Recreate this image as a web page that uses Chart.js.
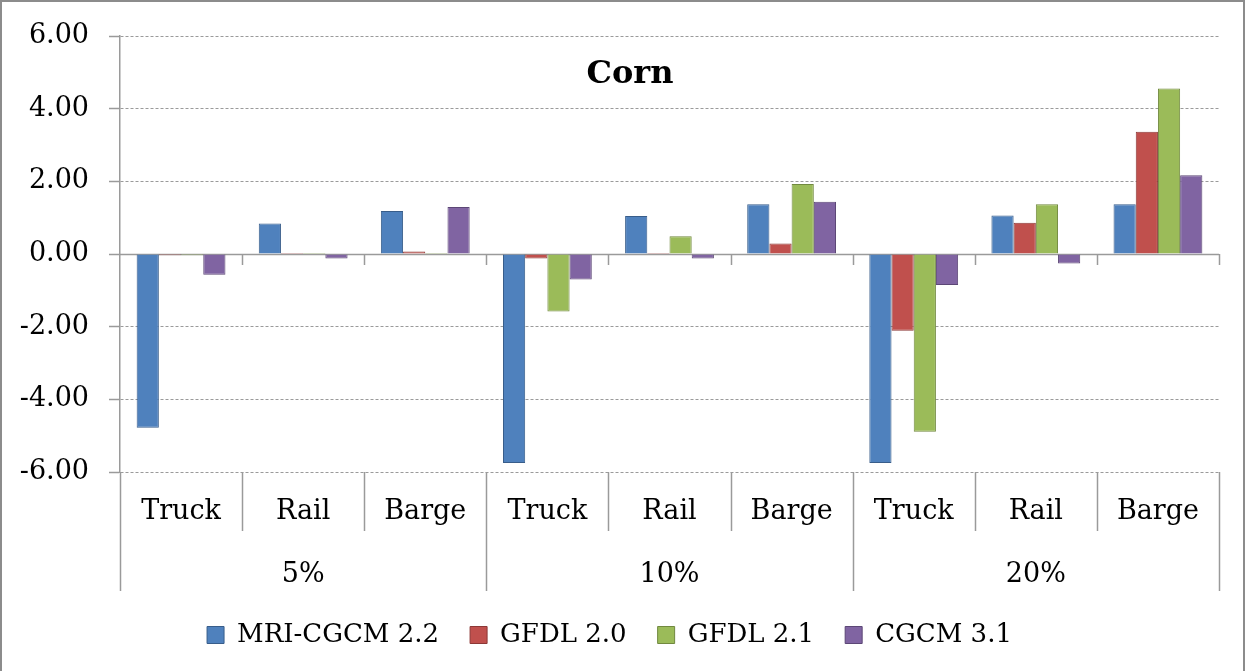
<!DOCTYPE html>
<html>
<head>
<meta charset="utf-8">
<title>Corn</title>
<script src="https://cdn.jsdelivr.net/npm/chart.js@4.4.0/dist/chart.umd.min.js"></script>
<style>
  html, body { margin: 0; padding: 0; background: #fff; }
  #wrap { position: relative; width: 1247px; height: 671px; overflow: hidden; }
  #frame { position: absolute; left: 0; top: 0; width: 1245px; height: 700px;
           border: 2px solid #8c8c8c; box-sizing: border-box; pointer-events: none; }
</style>
</head>
<body>
<div id="wrap">
  <canvas id="chart" width="1247" height="671"></canvas>
  <div id="frame"></div>
</div>
<script>
const TITLE = 'Corn';
const CATEGORIES = ['Truck', 'Rail', 'Barge', 'Truck', 'Rail', 'Barge', 'Truck', 'Rail', 'Barge'];
const GROUPS = ['5%', '10%', '20%'];
const SERIES_NAMES = ['MRI-CGCM 2.2', 'GFDL 2.0', 'GFDL 2.1', 'CGCM 3.1'];

const MRI_CGCM_22 = [-4.78, 0.84, 1.19, -5.75, 1.05, 1.37, -5.75, 1.06, 1.37];
const GFDL_20     = [-0.03, 0.03, 0.07, -0.12, 0.03, 0.29, -2.11, 0.86, 3.37];
const GFDL_21     = [-0.03, 0.03, 0.03, -1.58, 0.49, 1.93, -4.89, 1.37, 4.56];
const CGCM_31     = [-0.57, -0.12, 1.30, -0.70, -0.12, 1.44, -0.85, -0.26, 2.17];

const Y_MIN = -6, Y_MAX = 6, Y_STEP = 2;

const FILLS   = ['#4F81BD', '#C0504D', '#9BBB59', '#8064A2'];
const BORDERS = ['#385D8A', '#8C3836', '#71893F', '#5C4776'];
const LINE = '#9a9a9a';
const FONT = { family: 'DejaVu Serif', size: 27 };
const LEGEND_FONT = { family: 'DejaVu Serif', size: 26 };

Chart.defaults.font.family = 'DejaVu Serif';
Chart.defaults.color = '#000';

/* draws the excel-like bits: solid zero line, its little ticks,
   the separators in the label area and the title inside the plot */
const excelLines = {
  id: 'excelLines',
  beforeDatasetsDraw(chart) {
    const { ctx, chartArea, scales: { y } } = chart;
    const y0 = Math.round(y.getPixelForValue(0)) + 0.5;
    ctx.save();
    ctx.strokeStyle = LINE;
    ctx.lineWidth = 1.5;
    ctx.beginPath();
    ctx.moveTo(chartArea.left, y0);
    ctx.lineTo(chartArea.right, y0);
    ctx.stroke();
    ctx.restore();
  },
  afterDraw(chart) {
    const { ctx, scales: { x, x2, y } } = chart;
    const n = CATEGORIES.length;
    const w = (x.right - x.left) / n;
    const y0 = y.getPixelForValue(0);
    ctx.save();
    ctx.strokeStyle = LINE;
    ctx.lineWidth = 1.5;
    ctx.beginPath();
    for (let k = 0; k <= n; k++) {
      const px = Math.round(x.left + k * w) + 0.5;
      if (k > 0) {
        ctx.moveTo(px, y0);
        ctx.lineTo(px, y0 + 11);
      }
      const isGroup = k % (n / GROUPS.length) === 0;
      ctx.moveTo(px, x.top);
      ctx.lineTo(px, isGroup ? x2.bottom : x.bottom);
    }
    ctx.stroke();

    ctx.fillStyle = '#000';
    ctx.font = 'bold 32px "DejaVu Serif"';
    ctx.textAlign = 'center';
    ctx.textBaseline = 'middle';
    ctx.fillText(TITLE, 630, 75);
    ctx.restore();
  }
};

const datasets = [MRI_CGCM_22, GFDL_20, GFDL_21, CGCM_31].map((vals, i) => ({
  label: SERIES_NAMES[i],
  data: vals,
  backgroundColor: FILLS[i],
  borderColor: BORDERS[i],
  borderWidth: 1,
  categoryPercentage: 4 / 5.5,
  barPercentage: 1.0
}));

new Chart(document.getElementById('chart'), {
  type: 'bar',
  data: { labels: CATEGORIES, datasets },
  options: {
    responsive: false,
    animation: false,
    layout: { padding: { top: 34, right: 28, bottom: 13, left: 0 } },
    plugins: {
      legend: {
        position: 'bottom',
        labels: { boxWidth: 17, boxHeight: 17, padding: 31, font: LEGEND_FONT, color: '#000' }
      },
      tooltip: { enabled: false }
    },
    scales: {
      x: {
        type: 'category',
        position: 'bottom',
        grid: { display: false },
        border: { display: false },
        ticks: { font: FONT, color: '#000', padding: 16, maxRotation: 0, autoSkip: false },
        afterFit: s => { s.height = 59; }
      },
      x2: {
        type: 'category',
        position: 'bottom',
        weight: 1,
        labels: GROUPS,
        offset: true,
        grid: { display: false },
        border: { display: false },
        ticks: { font: FONT, color: '#000', padding: 20, maxRotation: 0 },
        afterFit: s => { s.height = 60; }
      },
      y: {
        min: Y_MIN,
        max: Y_MAX,
        ticks: { stepSize: Y_STEP, font: FONT, color: '#000', padding: 20,
                 callback: v => Number(v).toFixed(2) },
        grid: { color: LINE, lineWidth: 1, tickLength: 11, tickColor: LINE, tickWidth: 1.5 },
        border: { display: true, color: LINE, width: 1.5, dash: [3, 2] },
        afterFit: s => { s.width = 120; }
      }
    }
  },
  plugins: [excelLines]
});
</script>
</body>
</html>
